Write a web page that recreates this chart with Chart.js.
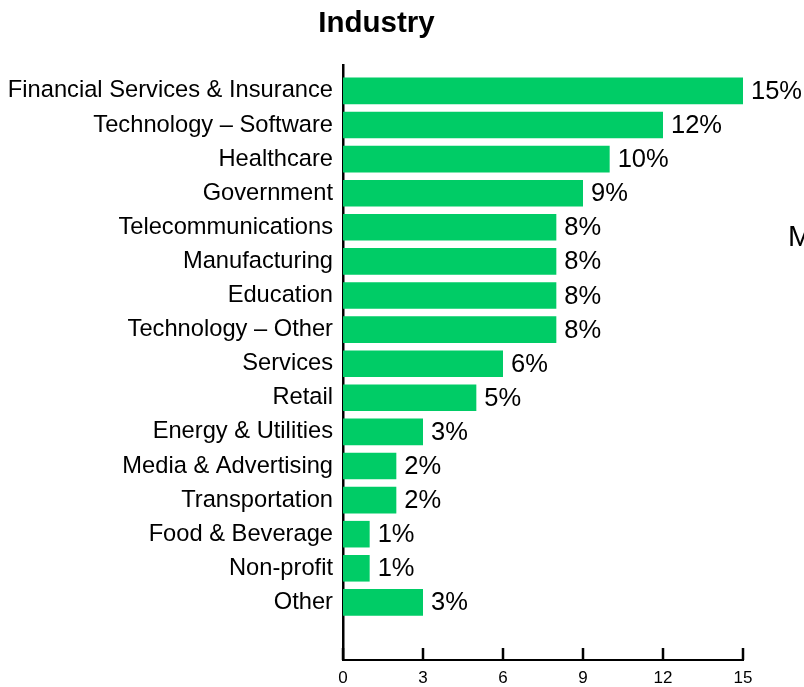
<!DOCTYPE html>
<html>
<head>
<meta charset="utf-8">
<title>Industry</title>
<script src="https://cdn.jsdelivr.net/npm/chart.js@4/dist/chart.umd.min.js"></script>
<style>
    html, body { margin: 0; padding: 0; background: #fff; }
    #wrap { width: 804px; height: 687px; position: relative; }
</style>
</head>
<body>
<div id="wrap"><canvas id="industryChart"></canvas></div>
<script>
/* =========================================================
   DATA
========================================================= */

const categories = [
    'Financial Services & Insurance',
    'Technology – Software',
    'Healthcare',
    'Government',
    'Telecommunications',
    'Manufacturing',
    'Education',
    'Technology – Other',
    'Services',
    'Retail',
    'Energy & Utilities',
    'Media & Advertising',
    'Transportation',
    'Food & Beverage',
    'Non-profit',
    'Other'
];

const shares = [15, 12, 10, 9, 8, 8, 8, 8, 6, 5, 3, 2, 2, 1, 1, 3];

const xTicks = [0, 3, 6, 9, 12, 15];

const chartTitle = 'Industry';
const sideText = 'M';

/* =========================================================
   STYLE
========================================================= */

const BAR_GREEN = '#00cc66';
const INK = '#000';
const FONT = '"Liberation Sans", Arial, sans-serif';

/* =========================================================
   PLUGINS
========================================================= */

// percentage labels at the end of each bar
const valueLabels = {
    id: 'valueLabels',
    afterDatasetsDraw(chart) {
        const { ctx } = chart;
        const meta = chart.getDatasetMeta(0);
        ctx.save();
        ctx.font = `25.5px ${FONT}`;
        ctx.fillStyle = INK;
        ctx.textAlign = 'left';
        ctx.textBaseline = 'middle';
        meta.data.forEach((bar, i) => {
            ctx.fillText(`${shares[i]}%`, bar.x + 8, bar.y + 1);
        });
        ctx.restore();
    }
};

// short tick marks pointing up from the x axis
const innerTicks = {
    id: 'innerTicks',
    afterDraw(chart) {
        const { ctx, chartArea } = chart;
        const xScale = chart.scales.x;
        ctx.save();
        ctx.strokeStyle = INK;
        ctx.lineWidth = 2.5;
        xScale.ticks.forEach(t => {
            const px = Math.round(xScale.getPixelForValue(t.value));
            ctx.beginPath();
            ctx.moveTo(px, chartArea.bottom);
            ctx.lineTo(px, chartArea.bottom - 12);
            ctx.stroke();
        });
        ctx.restore();
    }
};

// title and the stray text on the right edge
const headerText = {
    id: 'headerText',
    afterDraw(chart) {
        const { ctx } = chart;
        ctx.save();
        ctx.fillStyle = INK;
        ctx.textBaseline = 'middle';

        ctx.font = `bold 29.5px ${FONT}`;
        ctx.textAlign = 'center';
        ctx.fillText(chartTitle, 376.5, 24);

        ctx.font = `29px ${FONT}`;
        ctx.textAlign = 'left';
        ctx.fillText(sideText, 788, 238);
        ctx.restore();
    }
};

/* =========================================================
   CHART
========================================================= */

new Chart(document.getElementById('industryChart'), {
    type: 'bar',
    data: {
        datasets: [{
            data: shares.map((v, i) => ({ x: v, y: i })),
            backgroundColor: BAR_GREEN,
            borderWidth: 0,
            categoryPercentage: 1,
            barPercentage: 0.78
        }]
    },
    options: {
        indexAxis: 'y',
        responsive: true,
        maintainAspectRatio: false,
        animation: false,
        layout: {
            padding: { top: 65, right: 61, bottom: 0, left: 0 }
        },
        plugins: {
            legend: { display: false },
            title: { display: false },
            tooltip: { enabled: false }
        },
        scales: {
            x: {
                type: 'linear',
                min: 0,
                max: 15,
                afterBuildTicks: scale => {
                    scale.ticks = xTicks.map(v => ({ value: v }));
                },
                afterFit: scale => { scale.height = 27; },
                grid: { display: false, drawTicks: false },
                border: { display: true, color: INK, width: 2 },
                ticks: {
                    color: INK,
                    padding: 8,
                    font: { family: FONT, size: 17 }
                }
            },
            y: {
                type: 'linear',
                offset: false,
                reverse: true,
                min: -0.76,
                max: 16.69,
                afterBuildTicks: scale => {
                    scale.ticks = categories.map((_, i) => ({ value: i }));
                },
                afterFit: scale => { scale.width = 343; },
                grid: { display: false, drawTicks: false, offset: false },
                border: { display: true, color: INK, width: 2.5 },
                ticks: {
                    color: INK,
                    padding: 10,
                    autoSkip: false,
                    font: { family: FONT, size: 23.7 },
                    callback: value => categories[value] ?? ''
                }
            }
        }
    },
    plugins: [valueLabels, innerTicks, headerText]
});
</script>
</body>
</html>
